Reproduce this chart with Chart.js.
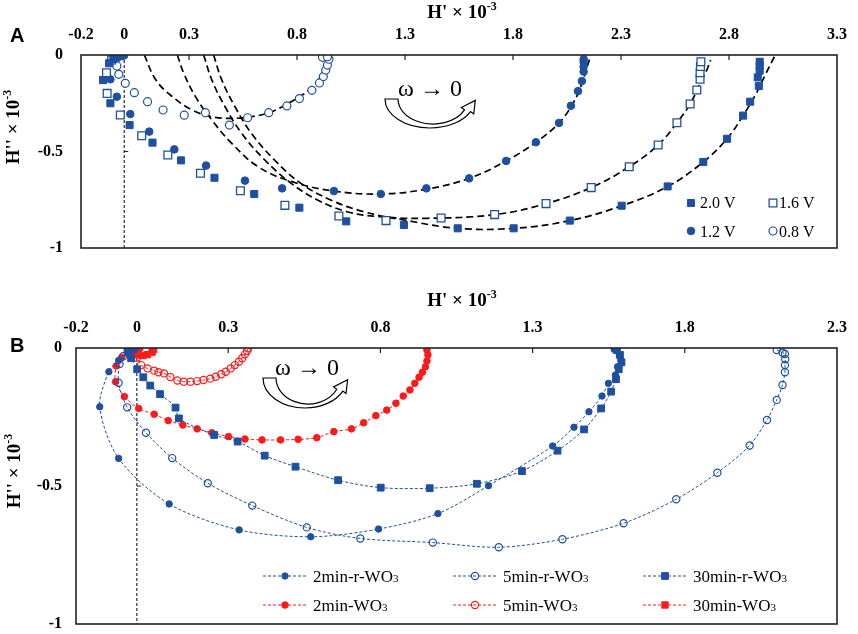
<!DOCTYPE html>
<html>
<head>
<meta charset="utf-8">
<title>H' vs H'' plots</title>
<script src="https://cdn.jsdelivr.net/npm/chart.js@4.4.0/dist/chart.umd.min.js"></script>
<style>
  body { margin: 0; background: #fff; }
  canvas { position: absolute; left: 0; }
  #chartA { top: 0; }
  #chartB { top: 270px; }
</style>
</head>
<body>
<canvas id="chartA" width="858" height="270"></canvas>
<canvas id="chartB" width="858" height="364"></canvas>
<script>
// ---- tick labels ----
const xTicksA = [-0.2, 0, 0.3, 0.8, 1.3, 1.8, 2.3, 2.8, 3.3];
const xTicksB = [-0.2, 0, 0.3, 0.8, 1.3, 1.8, 2.3];
const yTicks = [0, -0.5, -1];

// ---- panel A: measured points ----
const labelsA = ["2.0 V", "1.6 V", "1.2 V", "0.8 V"];

const v20x = [-0.01, -0.02, -0.035, -0.05, -0.070, -0.098, -0.064, 0.025, 0.131, 0.263, 0.418, 0.602, 0.811, 1.028, 1.295, 1.544, 1.803, 2.063, 2.303, 2.516, 2.681, 2.791, 2.865, 2.898, 2.938, 2.933, 2.942, 2.942, 2.942];
const v20y = [-0.001, -0.004, -0.010, -0.020, -0.043, -0.130, -0.250, -0.363, -0.454, -0.546, -0.636, -0.720, -0.791, -0.862, -0.881, -0.898, -0.898, -0.858, -0.781, -0.681, -0.554, -0.434, -0.314, -0.242, -0.161, -0.116, -0.081, -0.057, -0.035];

const v16x = [-0.02, -0.04, -0.058, -0.082, -0.079, -0.018, 0.081, 0.202, 0.353, 0.538, 0.744, 0.994, 1.212, 1.467, 1.715, 1.953, 2.162, 2.338, 2.472, 2.559, 2.620, 2.651, 2.666, 2.666, 2.668, 2.670];
const v16y = [-0.004, -0.012, -0.026, -0.092, -0.199, -0.311, -0.418, -0.518, -0.613, -0.703, -0.779, -0.834, -0.858, -0.845, -0.827, -0.770, -0.687, -0.579, -0.466, -0.351, -0.254, -0.181, -0.126, -0.092, -0.060, -0.035];

const v12x = [0.0, -0.015, -0.03, -0.045, -0.064, -0.034, 0.028, 0.116, 0.232, 0.379, 0.559, 0.731, 0.971, 1.188, 1.399, 1.597, 1.768, 1.906, 2.013, 2.068, 2.101, 2.119, 2.127, 2.127, 2.127, 2.127];
const v12y = [-0.001, -0.003, -0.008, -0.015, -0.126, -0.216, -0.306, -0.397, -0.489, -0.573, -0.651, -0.691, -0.705, -0.720, -0.691, -0.639, -0.549, -0.452, -0.352, -0.263, -0.187, -0.135, -0.086, -0.060, -0.038, -0.022];

const v08x = [-0.03, -0.05, -0.060, -0.034, -0.025, 0.005, 0.047, 0.108, 0.180, 0.278, 0.376, 0.487, 0.571, 0.669, 0.753, 0.811, 0.869, 0.904, 0.922, 0.933, 0.941, 0.948, 0.918, 0.941];
const v08y = [-0.004, -0.012, -0.026, -0.057, -0.100, -0.147, -0.195, -0.242, -0.285, -0.312, -0.299, -0.363, -0.325, -0.299, -0.264, -0.226, -0.183, -0.145, -0.112, -0.078, -0.052, -0.022, -0.012, -0.009];

// ---- panel A: fitted curves ----
const f08x = [0.093, 0.147, 0.223, 0.315, 0.406, 0.498, 0.589, 0.681, 0.773, 0.864, 0.918, 0.948];
const f08y = [0, -0.130, -0.216, -0.285, -0.320, -0.328, -0.320, -0.294, -0.242, -0.173, -0.095, -0.009];
const f12x = [0.246, 0.276, 0.330, 0.406, 0.498, 0.620, 0.773, 0.971, 1.188, 1.399, 1.597, 1.768, 1.906, 2.013, 2.078, 2.117, 2.139, 2.155];
const f12y = [0, -0.095, -0.216, -0.337, -0.458, -0.579, -0.655, -0.705, -0.720, -0.695, -0.639, -0.549, -0.452, -0.352, -0.250, -0.155, -0.078, -0.017];
const f16x = [0.368, 0.406, 0.467, 0.544, 0.651, 0.773, 0.895, 1.032, 1.185, 1.399, 1.715, 1.953, 2.162, 2.338, 2.472, 2.559, 2.620, 2.666, 2.697, 2.715];
const f16y = [0, -0.130, -0.268, -0.406, -0.544, -0.665, -0.751, -0.812, -0.838, -0.846, -0.827, -0.770, -0.687, -0.579, -0.466, -0.351, -0.254, -0.147, -0.078, -0.026];
const f20x = [0.414, 0.452, 0.513, 0.589, 0.696, 0.818, 0.956, 1.109, 1.295, 1.544, 1.803, 2.063, 2.303, 2.516, 2.681, 2.791, 2.865, 2.926, 2.971, 3.010];
const f20y = [0, -0.130, -0.268, -0.406, -0.544, -0.665, -0.751, -0.812, -0.855, -0.898, -0.898, -0.858, -0.781, -0.681, -0.554, -0.434, -0.314, -0.199, -0.095, -0.009];

// ---- panel B ----
const labelsB = ["2min-r-WO", "5min-r-WO", "30min-r-WO", "2min-WO", "5min-WO", "30min-WO"];

const r2x = [-0.01, -0.03, -0.06, -0.092, -0.122, -0.060, 0.106, 0.336, 0.571, 0.794, 0.989, 1.155, 1.366, 1.436, 1.485, 1.528, 1.549, 1.572, 1.579, 1.590, 1.585, 1.577, 1.568];
const r2y = [-0.004, -0.02, -0.045, -0.086, -0.213, -0.400, -0.565, -0.659, -0.684, -0.656, -0.600, -0.499, -0.355, -0.287, -0.231, -0.174, -0.128, -0.098, -0.068, -0.043, -0.025, -0.010, -0.005];

const r5x = [-0.005, -0.025, -0.045, -0.057, -0.060, -0.032, 0.030, 0.116, 0.233, 0.379, 0.558, 0.734, 0.972, 1.189, 1.398, 1.599, 1.772, 1.907, 2.013, 2.070, 2.102, 2.121, 2.129, 2.129, 2.130, 2.129, 2.121, 2.102];
const r5y = [-0.003, -0.012, -0.030, -0.058, -0.126, -0.215, -0.307, -0.399, -0.490, -0.571, -0.650, -0.690, -0.705, -0.722, -0.693, -0.635, -0.548, -0.452, -0.353, -0.261, -0.188, -0.134, -0.088, -0.062, -0.041, -0.022, -0.017, -0.007];

const r30x = [-0.03, -0.019, 0.001, 0.021, 0.044, 0.076, 0.127, 0.138, 0.254, 0.331, 0.420, 0.521, 0.661, 0.801, 0.962, 1.117, 1.265, 1.382, 1.469, 1.525, 1.558, 1.574, 1.583, 1.592, 1.587, 1.577];
const r30y = [-0.012, -0.037, -0.077, -0.106, -0.136, -0.167, -0.216, -0.255, -0.315, -0.339, -0.390, -0.430, -0.479, -0.506, -0.508, -0.492, -0.446, -0.372, -0.295, -0.219, -0.158, -0.113, -0.077, -0.052, -0.025, -0.007];

const w2x = [0.01, -0.01, -0.03, -0.05, -0.068, -0.070, -0.041, 0.006, 0.057, 0.103, 0.151, 0.198, 0.246, 0.301, 0.355, 0.411, 0.472, 0.530, 0.591, 0.647, 0.705, 0.745, 0.785, 0.821, 0.851, 0.875, 0.897, 0.913, 0.927, 0.938, 0.948, 0.953, 0.956, 0.953];
const w2y = [-0.002, -0.006, -0.015, -0.035, -0.065, -0.122, -0.176, -0.219, -0.240, -0.263, -0.279, -0.293, -0.307, -0.321, -0.330, -0.333, -0.333, -0.331, -0.325, -0.303, -0.293, -0.271, -0.245, -0.225, -0.200, -0.174, -0.152, -0.128, -0.106, -0.088, -0.068, -0.047, -0.025, -0.007];

const w5x = [-0.03, -0.015, 0.0, 0.014, 0.035, 0.057, 0.071, 0.089, 0.11, 0.133, 0.154, 0.176, 0.198, 0.219, 0.241, 0.259, 0.277, 0.292, 0.308, 0.322, 0.335, 0.346, 0.355, 0.362, 0.366];
const w5y = [-0.008, -0.020, -0.035, -0.062, -0.074, -0.082, -0.088, -0.092, -0.105, -0.118, -0.122, -0.122, -0.120, -0.116, -0.111, -0.104, -0.095, -0.086, -0.074, -0.062, -0.050, -0.037, -0.023, -0.011, -0.001];

const w30x = [-0.03, -0.02, 0.0, 0.02, 0.035, 0.05, 0.055];
const w30y = [-0.010, -0.020, -0.025, -0.027, -0.024, -0.015, -0.005];

// ---- helpers ----
const BLUE = "#1f50a0";
const RED = "#ff1a1a";
const SERIF = '"Liberation Serif", "Times New Roman", serif';

function pts(xs, ys) {
  return xs.map((x, i) => ({ x: x, y: ys[i] }));
}

function richText(ctx, parts, x, y, align) {
  let w = 0;
  parts.forEach(p => { ctx.font = p[1]; w += ctx.measureText(p[0]).width; });
  let cx = align === "center" ? x - w / 2 : x;
  ctx.textAlign = "left";
  ctx.textBaseline = "alphabetic";
  parts.forEach(p => {
    ctx.font = p[1];
    ctx.fillText(p[0], cx, y + (p[2] || 0));
    cx += ctx.measureText(p[0]).width;
  });
}

function marker(ctx, style, r, fill, stroke, bw, x, y) {
  ctx.beginPath();
  if (style === "rect") {
    const s = r * Math.SQRT1_2;
    ctx.rect(x - s, y - s, 2 * s, 2 * s);
  } else {
    ctx.arc(x, y, r, 0, Math.PI * 2);
  }
  ctx.fillStyle = fill;
  ctx.fill();
  if (bw > 0) {
    ctx.lineWidth = bw;
    ctx.strokeStyle = stroke;
    ctx.stroke();
  }
}

// hollow curved arrow under the "omega -> 0" label
function curvedArrow(ctx, cx, cy, rx, ry) {
  const end = 0.45;
  const irx = rx - 10, iry = ry - 4, icx = cx + 3;
  const ox = cx + rx * Math.cos(end), oy = cy + ry * Math.sin(end);
  const ix = icx + irx * Math.cos(end), iy = cy + iry * Math.sin(end);
  const mx = (ox + ix) / 2, my = (oy + iy) / 2;
  const tx = 0.6, ty = -0.8, nx = 0.8, ny = 0.6;
  ctx.beginPath();
  ctx.ellipse(cx, cy, rx, ry, 0, Math.PI, end, true);
  ctx.lineTo(ox + nx * 4, oy + ny * 4);
  ctx.lineTo(mx + tx * 13, my + ty * 13);
  ctx.lineTo(ix - nx * 4, iy - ny * 4);
  ctx.lineTo(ix, iy);
  ctx.ellipse(icx, cy, irx, iry, 0, end, Math.PI, false);
  ctx.closePath();
  ctx.fillStyle = "#fff";
  ctx.fill();
  ctx.lineWidth = 1.2;
  ctx.strokeStyle = "#000";
  ctx.stroke();
}

function subLabel(ctx, text, x, y) {
  ctx.fillStyle = "#000";
  richText(ctx, [[text, "17px " + SERIF], ["3", "11px " + SERIF, 0]], x, y, "left");
}

const decor = {
  id: "decor",
  afterDatasetsDraw(chart, args, o) {
    const ctx = chart.ctx, a = chart.chartArea;
    const xs = chart.scales.x, ys = chart.scales.y;
    ctx.save();
    ctx.setLineDash([]);
    ctx.strokeStyle = "#222";
    ctx.lineWidth = 1.6;
    ctx.strokeRect(a.left, a.top, a.right - a.left, a.bottom - a.top);

    ctx.lineWidth = 1.2;
    ctx.beginPath();
    o.ticks.forEach(v => {
      if (v === 0 || v === xs.min || v === xs.max) return;
      const px = xs.getPixelForValue(v);
      ctx.moveTo(px, a.top);
      ctx.lineTo(px, a.top + 5);
    });
    const x0 = xs.getPixelForValue(0), ym = ys.getPixelForValue(-0.5);
    ctx.moveTo(x0, ym);
    ctx.lineTo(x0 + 4, ym);
    ctx.stroke();

    // titles
    ctx.fillStyle = "#000";
    richText(ctx, [["H' \u00d7 10", "bold 19px " + SERIF], ["-3", "bold 12px " + SERIF, -8]], o.xTitle[0], o.xTitle[1], "center");
    ctx.save();
    ctx.translate(o.yTitle[0], o.yTitle[1]);
    ctx.rotate(-Math.PI / 2);
    richText(ctx, [["H'' \u00d7 10", "bold 19px " + SERIF], ["-3", "bold 12px " + SERIF, -8]], 0, 0, "center");
    ctx.restore();

    ctx.font = 'bold 20px "Liberation Sans", Arial, sans-serif';
    ctx.textAlign = "left";
    ctx.fillText(o.letter[0], o.letter[1], o.letter[2]);

    // omega annotation
    curvedArrow(ctx, o.arrow[0], o.arrow[1], o.arrow[2], o.arrow[3]);
    ctx.fillStyle = "#000";
    ctx.font = "24px " + SERIF;
    ctx.textAlign = "center";
    ctx.fillText("\u03c9 \u2192 0", o.omega[0], o.omega[1]);

    // legend
    o.legend.forEach(it => {
      const ds = chart.data.datasets[it.ds];
      if (it.line) {
        ctx.save();
        ctx.setLineDash([3, 2]);
        ctx.lineWidth = 1;
        ctx.strokeStyle = ds.borderColor;
        ctx.beginPath();
        ctx.moveTo(it.x - 22, it.y);
        ctx.lineTo(it.x + 22, it.y);
        ctx.stroke();
        ctx.restore();
      }
      marker(ctx, ds.pointStyle, ds.pointRadius, ds.pointBackgroundColor, ds.pointBorderColor, ds.pointBorderWidth, it.x, it.y);
      if (it.sub) {
        subLabel(ctx, ds.label, it.tx, it.ty);
      } else {
        ctx.fillStyle = "#000";
        ctx.font = "16px " + SERIF;
        ctx.textAlign = "left";
        ctx.fillText(ds.label, it.tx, it.ty);
      }
    });
    ctx.restore();
  }
};

function tickFont() {
  return { family: SERIF, weight: "bold", size: 16 };
}

function axes(xTicks, xMax, topH, leftW, xPad, yPad) {
  return {
    x: {
      type: "linear", position: "top", min: -0.2, max: xMax,
      afterBuildTicks: s => { s.ticks = xTicks.map(v => ({ value: v })); },
      afterFit: s => { s.height = topH; },
      grid: { display: false, drawTicks: false }, border: { display: false },
      ticks: { padding: xPad, color: "#000", font: tickFont(), autoSkip: false, maxRotation: 0, callback: v => String(v) }
    },
    y: {
      type: "linear", min: -1, max: 0,
      afterBuildTicks: s => { s.ticks = yTicks.map(v => ({ value: v })); },
      afterFit: s => { s.width = leftW; s.paddingTop = 0; s.paddingBottom = 0; },
      grid: { display: false, drawTicks: false }, border: { display: false },
      ticks: { padding: yPad, color: "#000", font: tickFont(), callback: v => String(v) }
    }
  };
}

function zeroLine() {
  return {
    data: [{ x: 0, y: 0 }, { x: 0, y: -1 }], showLine: true, pointRadius: 0,
    borderColor: "#000", borderWidth: 1, borderDash: [3, 2], order: 20
  };
}

function markers(label, data, style, r, fill, stroke, bw) {
  return {
    label: label, data: data, showLine: false, pointStyle: style, pointRadius: r,
    pointBackgroundColor: fill, pointBorderColor: stroke, pointBorderWidth: bw,
    backgroundColor: fill, borderColor: stroke, order: 1
  };
}

function fitLine(data) {
  return {
    data: data, showLine: true, pointRadius: 0, borderColor: "#000",
    borderWidth: 1.7, borderDash: [7, 4], tension: 0.4, order: 10
  };
}

function seriesB(label, data, color, style, r, fill, bw) {
  return {
    label: label, data: data, showLine: true, borderColor: color, borderWidth: 1,
    borderDash: [3, 2], tension: 0.3, pointStyle: style, pointRadius: r,
    pointBackgroundColor: fill, pointBorderColor: color, pointBorderWidth: bw, order: 2
  };
}

const common = {
  responsive: false,
  animation: false,
  events: []
};

new Chart(document.getElementById("chartA"), {
  type: "scatter",
  data: {
    datasets: [
      markers(labelsA[0], pts(v20x, v20y), "rect", 5, BLUE, BLUE, 1),
      markers(labelsA[1], pts(v16x, v16y), "rect", 5.5, "#fff", BLUE, 1.3),
      markers(labelsA[2], pts(v12x, v12y), "circle", 3.8, BLUE, BLUE, 1),
      markers(labelsA[3], pts(v08x, v08y), "circle", 4, "#fff", BLUE, 1.2),
      fitLine(pts(f20x, f20y)),
      fitLine(pts(f16x, f16y)),
      fitLine(pts(f12x, f12y)),
      fitLine(pts(f08x, f08y)),
      zeroLine()
    ]
  },
  options: Object.assign({}, common, {
    layout: { padding: { left: 0, right: 13, top: 0, bottom: 22 } },
    scales: axes(xTicksA, 3.3, 55, 81, 11, 18),
    plugins: {
      legend: { display: false },
      tooltip: { enabled: false },
      decor: {
        ticks: xTicksA,
        xTitle: [462, 18],
        yTitle: [19, 127],
        letter: ["A", 10, 42],
        arrow: [430, 99, 45, 29],
        omega: [430, 96],
        legend: [
          { ds: 0, x: 691, y: 203, tx: 700, ty: 208 },
          { ds: 1, x: 773, y: 203, tx: 779, ty: 208 },
          { ds: 2, x: 691, y: 231, tx: 700, ty: 237 },
          { ds: 3, x: 773, y: 231, tx: 779, ty: 237 }
        ]
      }
    }
  }),
  plugins: [decor]
});

const CLEAR = "rgba(0,0,0,0)";

new Chart(document.getElementById("chartB"), {
  type: "scatter",
  data: {
    datasets: [
      seriesB(labelsB[0], pts(r2x, r2y), BLUE, "circle", 3.2, BLUE, 1),
      seriesB(labelsB[1], pts(r5x, r5y), BLUE, "circle", 3.6, CLEAR, 1.2),
      seriesB(labelsB[2], pts(r30x, r30y), BLUE, "rect", 4.8, BLUE, 1),
      seriesB(labelsB[3], pts(w2x, w2y), RED, "circle", 3.3, RED, 1),
      seriesB(labelsB[4], pts(w5x, w5y), RED, "circle", 3.6, CLEAR, 1.2),
      seriesB(labelsB[5], pts(w30x, w30y), RED, "rect", 4.5, RED, 1),
      zeroLine()
    ]
  },
  options: Object.assign({}, common, {
    layout: { padding: { left: 0, right: 13, top: 0, bottom: 10 } },
    scales: axes(xTicksB, 2.3, 78, 76, 11, 14),
    plugins: {
      legend: { display: false },
      tooltip: { enabled: false },
      decor: {
        ticks: xTicksB,
        xTitle: [462, 36],
        yTitle: [20, 201],
        letter: ["B", 10, 82],
        arrow: [305, 108, 42, 30],
        omega: [307, 105],
        legend: [
          { ds: 0, x: 285, y: 306, tx: 313, ty: 312, line: true, sub: true },
          { ds: 1, x: 475, y: 306, tx: 503, ty: 312, line: true, sub: true },
          { ds: 2, x: 665, y: 306, tx: 693, ty: 312, line: true, sub: true },
          { ds: 3, x: 285, y: 335, tx: 313, ty: 341, line: true, sub: true },
          { ds: 4, x: 475, y: 335, tx: 503, ty: 341, line: true, sub: true },
          { ds: 5, x: 665, y: 335, tx: 693, ty: 341, line: true, sub: true }
        ]
      }
    }
  }),
  plugins: [decor]
});
</script>
</body>
</html>
